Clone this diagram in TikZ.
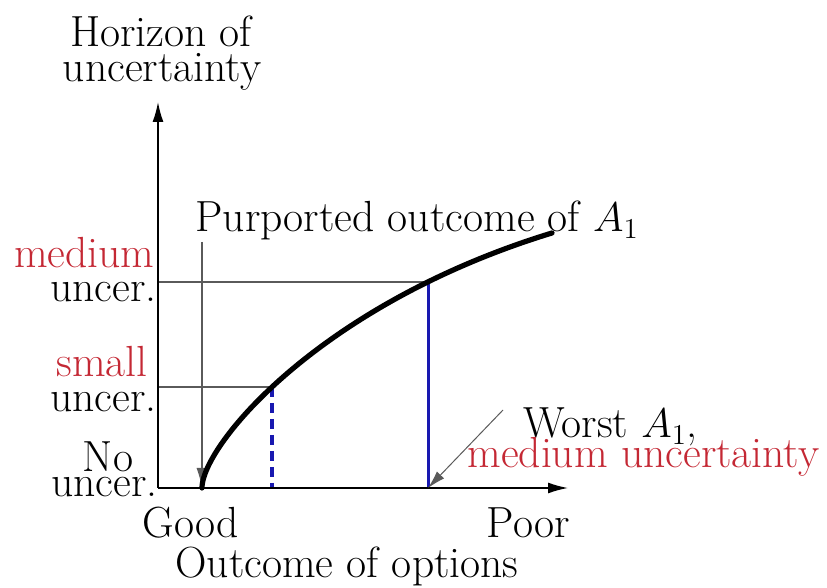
\documentclass[tikz,border=0pt]{standalone}
\usetikzlibrary{arrows.meta}
\definecolor{lblred}{RGB}{196,40,52}
\definecolor{lineblue}{RGB}{24,24,176}
\definecolor{thingray}{RGB}{90,90,90}
\begin{document}
\begin{tikzpicture}[x=0.5pt,y=-0.5pt,
  lbl/.style={inner sep=0pt,font=\fontsize{21.8}{17.5}\selectfont},
  redlbl/.style={lbl,text=lblred},
  axis/.style={line width=0.8pt,black,-{Latex[length=10pt,width=5.5pt]}},
  guide/.style={line width=0.6pt,thingray},
  curve/.style={line width=2.6pt,black,line cap=round,line join=round},
  bluesolid/.style={line width=1.5pt,lineblue},
  bluedash/.style={line width=2pt,lineblue,dash pattern=on 5pt off 3pt},
  pointer/.style={line width=0.5pt,thingray,-{Latex[length=9pt,width=5pt]}}]
\useasboundingbox (0,0) rectangle (827,588);
% coordinates
\coordinate (O) at (158,488);
\coordinate (Ytop) at (158,102);
\coordinate (Xend) at (568,488);
\coordinate (G0) at (202,488);
\coordinate (Gtop) at (202,242);
\coordinate (P1) at (272,387);
\coordinate (P2) at (428,282);
\coordinate (B1) at (272,488);
\coordinate (B2) at (428,488);
\coordinate (L1) at (158,387);
\coordinate (L2) at (158,282);
\coordinate (Wtail) at (503,410);
% guides
\draw[guide] (L2) -- (P2);
\draw[guide] (L1) -- (P1);
\draw[bluesolid] (P2) -- (B2);
\draw[bluedash] (P1) -- (B1);
% axes
\draw[axis] (O) -- (Ytop);
\draw[axis] (O) -- (Xend);
\draw[axis,line width=0.6pt,thingray] (Gtop) -- (G0);
% curve
\draw[curve] plot[domain=0:18.71,samples=90,variable=\s]
  ({202+\s*\s},{488-(6.755*\s+0.852*\s*\s-0.0259*\s*\s*\s)});
% pointer
\draw[pointer] (Wtail) -- (B2);
% texts
\node[lbl,anchor=base] (h1) at (161,47) {Horizon of};
\node[lbl,anchor=base] (h2) at (162,82) {uncertainty};
\node[lbl,anchor=base west] (pur) at (195,232) {Purported outcome of $A_1$};
\node[redlbl,anchor=base east] (m1) at (155,268) {medium};
\node[lbl,anchor=base east] (m2) at (157,302) {uncer.};
\node[redlbl,anchor=base] (s1) at (102,377) {small};
\node[lbl,anchor=base east] (s2) at (157,412) {uncer.};
\node[lbl,anchor=base] (n1) at (108,472) {No};
\node[lbl,anchor=base east] (n2) at (158,497) {uncer.};
\node[lbl,anchor=base west] (good) at (142,538) {Good};
\node[lbl,anchor=base east] (poor) at (570,538) {Poor};
\node[lbl,anchor=base] (xo) at (347,578) {Outcome of options};
\node[lbl,anchor=base west] (w1) at (523,438) {Worst $A_1$,};
\node[redlbl,anchor=base west] (w2) at (467,468) {medium uncertainty};
\end{tikzpicture}
\end{document}
